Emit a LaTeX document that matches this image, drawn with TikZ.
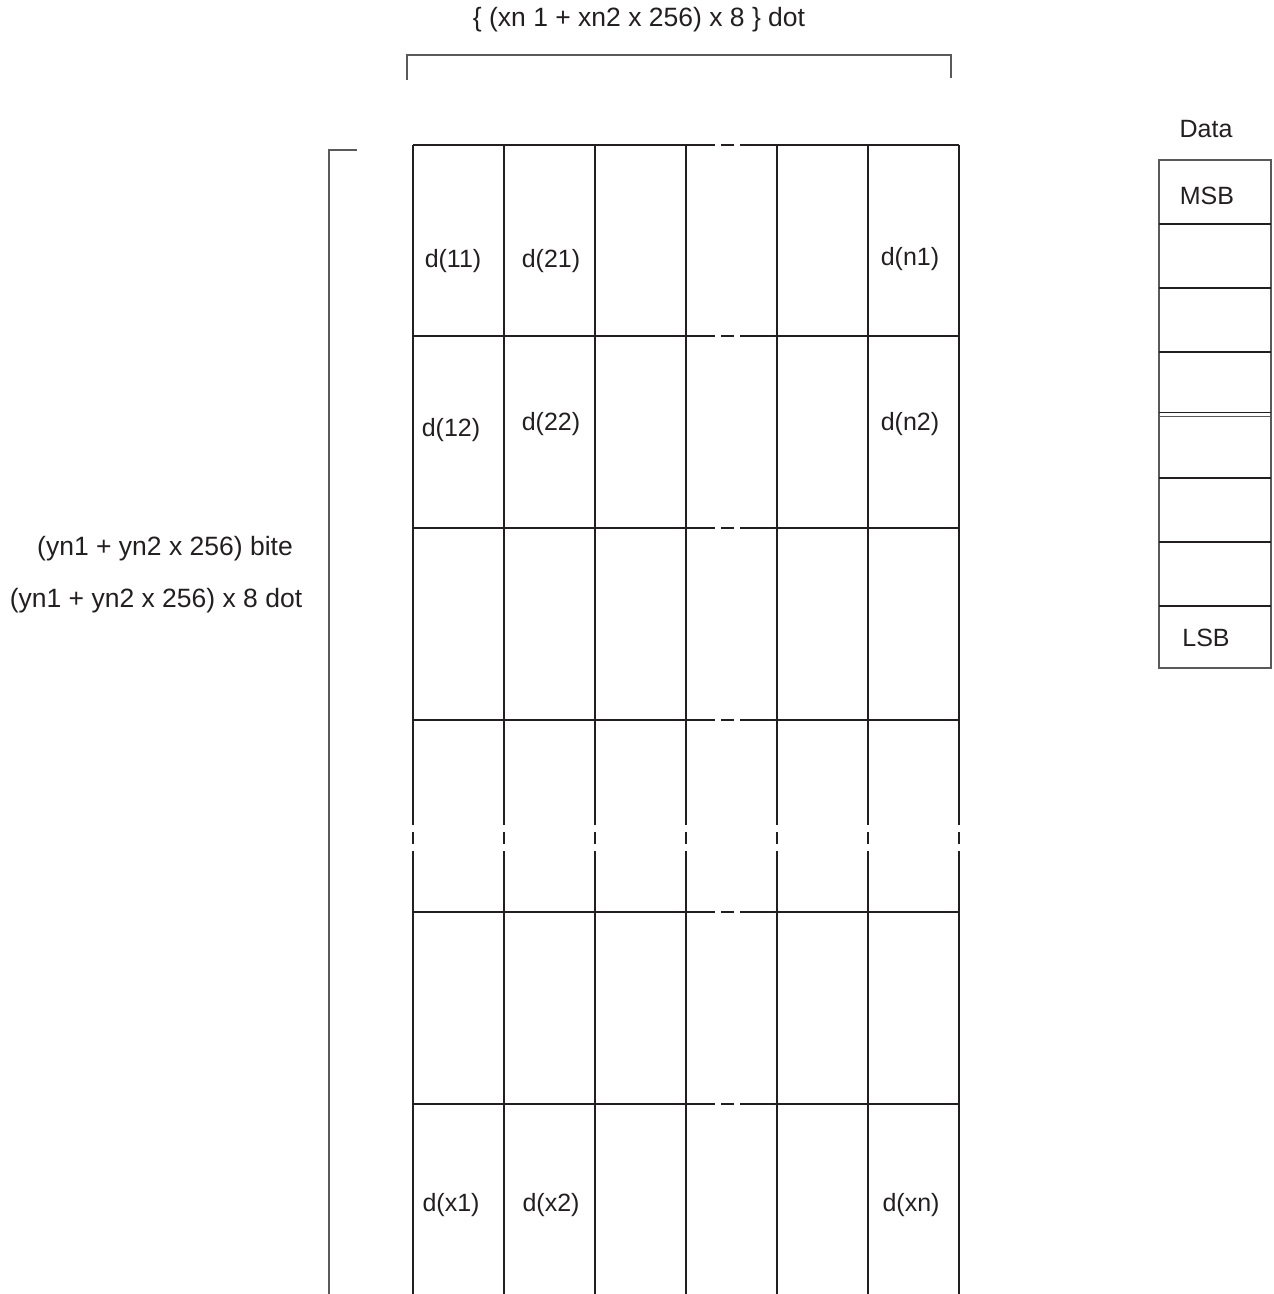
\documentclass[tikz,border=0pt]{standalone}
\definecolor{inkdark}{RGB}{35, 31, 32}
\definecolor{inkgray}{RGB}{90, 90, 90}
\usepackage{fontspec}
\setmainfont{Liberation Sans}
\usepackage{tikz}
\usetikzlibrary{positioning}

\tikzset{
  gridline/.style={line width=1.6pt, draw=inkdark},
  label/.style={font=\fontsize{25}{30}\selectfont, text=inkdark, inner sep=0pt},
  biglabel/.style={label, font=\fontsize{26.5}{31}\selectfont},
}

\begin{document}
\begin{tikzpicture}[x=1pt, y=-1pt]
\useasboundingbox (0,0) rectangle (1274,1294);
% brackets
\draw[line width=1.2pt, inkgray] (407,80) -- (407,55) -- (951,55) -- (951,78);
\draw[line width=1.2pt, inkgray] (357,150) -- (329,150) -- (329,1294);
\node[biglabel] (width) at (639,20) {\{ (xn 1 + xn2 x 256) x 8 \} dot};
\node[biglabel] (bite) at (165,549) {(yn1 + yn2 x 256) bite};
\node[biglabel] (dots) at (156,601) {(yn1 + yn2 x 256) x 8 dot};
% grid rows, broken between 4th and 5th column
\foreach \y in {145,336,528,720,912,1104} {
  \draw[gridline] (413,\y) -- (715,\y);
  \draw[gridline] (721,\y) -- (734,\y);
  \draw[gridline] (740,\y) -- (959,\y);
}
% grid columns, broken in the 4th row
\foreach \x in {413,504,595,686,777,868,959} {
  \draw[gridline] (\x,145) -- (\x,825);
  \draw[gridline] (\x,832) -- (\x,844);
  \draw[gridline] (\x,851) -- (\x,1294);
}
\node[label] (d11) at (453,261) {d(11)};
\node[label] (d21) at (551,261) {d(21)};
\node[label] (dn1) at (910,259) {d(n1)};
\node[label] (d12) at (451,430) {d(12)};
\node[label] (d22) at (551,424) {d(22)};
\node[label] (dn2) at (910,424) {d(n2)};
\node[label] (dx1) at (451,1205) {d(x1)};
\node[label] (dx2) at (551,1205) {d(x2)};
\node[label] (dxn) at (911,1205) {d(xn)};
% data byte
\node[label] (data) at (1206,129) {Data};
\draw[line width=1.2pt, inkgray] (1159,160) rectangle (1271,668);
\foreach \y in {224,288,352,478,542,606}
  \draw[line width=1.4pt, inkdark] (1159,\y) -- (1271,\y);
\draw[line width=1pt, inkdark] (1159,412.5) -- (1271,412.5);
\draw[line width=1pt, inkgray] (1159,416) -- (1271,416);
\node[label] (msb) at (1207,196) {MSB};
\node[label] (lsb) at (1206,638) {LSB};
\end{tikzpicture}
\end{document}
